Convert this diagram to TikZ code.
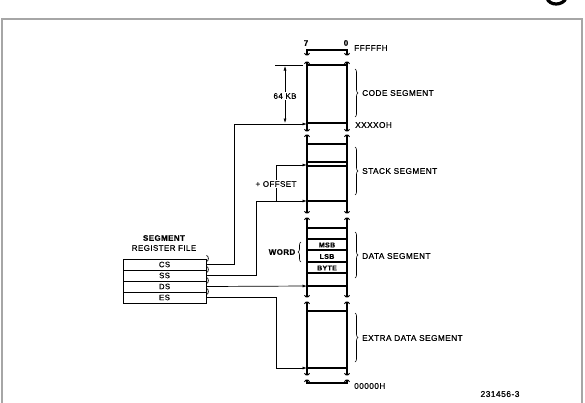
\documentclass[tikz,border=0pt]{standalone}
\usepackage{fontspec}
\setmainfont{Liberation Sans}
\newfontfamily\lblfont{Liberation Sans}[LetterSpace=5,FakeBold=0.6]
\usetikzlibrary{arrows.meta,decorations.pathreplacing}

\tikzset{
    brkend/.pic={\draw[line width=0.9pt] (-2.5,-1.8) .. controls (-2.5,0) and (0,0) .. (0,0)
        .. controls (0,0) and (2.5,0) .. (2.5,-1.8);},
    brkstart/.pic={\draw[line width=0.9pt] (-2.5,1.8) .. controls (-2.5,0) and (0,0) .. (0,0)
        .. controls (0,0) and (2.5,0) .. (2.5,1.8);},
}

\begin{document}
\begin{tikzpicture}[x=1pt,y=-1pt,
    mem/.style={line width=1.1pt},
    conn/.style={line width=0.7pt,-{Latex[length=4.5pt,width=3pt]}},
    seglbl/.style={anchor=west,inner sep=0pt,font=\lblfont\fontsize{8.3}{9}\selectfont},
    reg/.style={draw,line width=0.8pt,minimum width=83pt,minimum height=11pt,inner sep=0pt,
        font=\lblfont\fontsize{7.8}{8}\selectfont},
    cell/.style={inner sep=0pt,font=\lblfont\bfseries\fontsize{7}{8}\selectfont},
    sbrace/.style={decorate,decoration={brace,amplitude=3pt},line width=0.6pt}]
    \useasboundingbox (0,0) rectangle (585,402);
    \clip (0,0) rectangle (585,402);

    % page frame and corner mark
    \draw[gray!70,line width=1.6pt] (2,19) rectangle (582,430);
    \draw[line width=3.2pt] (547,-2) .. controls (549,6) and (563,6) .. (566,-2);

    % memory column
    \draw[mem] (307,55) -- (307,50) -- (347,50) -- (347,55);
    \draw[mem] (307,380) -- (307,383) -- (347,383) -- (347,380);
    \foreach \x in {307,347} {
        \draw[mem] (\x,62) -- (\x,131);
        \draw[mem] (\x,135) -- (\x,213);
        \draw[mem] (\x,218) -- (\x,297);
        \draw[mem] (\x,302) -- (\x,375);
        \foreach \y in {55,131,213,297,375} \pic at (\x,\y) {brkend};
        \foreach \y in {62,135,218,302,380} \pic at (\x,\y) {brkstart};
    }
    \foreach \y in {65,123,144,162,166,201,228,239,250,262,273,286,311,368}
        \draw[mem] (307,\y) -- (347,\y);

    % bit numbers and addresses
    \node[font=\lblfont\bfseries\fontsize{8}{9}\selectfont] (bit7) at (306,43) {7};
    \node[font=\lblfont\bfseries\fontsize{8}{9}\selectfont] (bit0) at (346,43) {0};
    \node[seglbl] (top) at (354,48) {FFFFFH};
    \node[seglbl] (base) at (355,125) {XXXXOH};
    \node[seglbl] (bottom) at (354,386) {00000H};

    % cells of the data segment
    \node[cell] (msb) at (327,245) {MSB};
    \node[cell] (lsb) at (327,256.5) {LSB};
    \node[cell] (byte) at (327,268) {BYTE};
    \draw[sbrace] (301,262) -- (301,242);
    \node[cell,font=\lblfont\bfseries\fontsize{8}{9}\selectfont] (word) at (282,252) {WORD};

    % segment braces
    \draw[sbrace] (355,69) -- (355,117);
    \node[seglbl] (code) at (362,93) {CODE SEGMENT};
    \draw[sbrace] (355,147) -- (355,195);
    \node[seglbl] (stack) at (362,171) {STACK SEGMENT};
    \draw[sbrace] (355,232) -- (355,278);
    \node[seglbl] (data) at (362,256) {DATA SEGMENT};
    \draw[sbrace] (355,313) -- (355,362);
    \node[seglbl] (extra) at (362,338) {EXTRA DATA SEGMENT};

    % segment register file
    \node[font=\lblfont\bfseries\fontsize{8}{9}\selectfont] (title) at (164,238) {SEGMENT};
    \node[font=\lblfont\fontsize{8}{9}\selectfont] (title2) at (164,248) {REGISTER FILE};
    \node[reg] (cs) at (164.5,264.5) {CS};
    \node[reg] (ss) at (164.5,275.5) {SS};
    \node[reg] (ds) at (164.5,286.5) {DS};
    \node[reg] (es) at (164.5,297.5) {ES};
    \foreach \r in {cs,ss,ds,es}
        \draw[line width=0.7pt] (\r.east) ++(0,-3) arc[start angle=90,end angle=-90,x radius=2,y radius=3];

    % targets on the column
    \coordinate (cstgt) at (307,124);
    \coordinate (sstgt) at (307,201);
    \coordinate (ofsbase) at (276,201);
    \coordinate (ofstgt) at (307,165);
    \coordinate (dstgt) at (307,286);
    \coordinate (estgt) at (307,368);

    % base addresses
    \draw[conn] (cs.east) -- ++(28,0) |- (cstgt);
    \draw[conn] (ss.east) -- ++(50,0) |- (sstgt);
    \draw[conn] (ofsbase) |- (ofstgt);
    \draw[conn] (ds.east) -- (dstgt);
    \draw[conn] (es.east) -- ++(70,0) |- (estgt);
    \node[fill=white,inner sep=1pt,font=\lblfont\fontsize{8}{9}\selectfont] (offset) at (276,184) {+ OFFSET};

    % 64 KB span
    \coordinate (spantop) at (285,66);
    \coordinate (spanbot) at (285,123);
    \draw[line width=0.6pt] (275,65) -- (303,65);
    \draw[line width=0.6pt,{Latex[length=4.5pt,width=3pt]}-{Latex[length=4.5pt,width=3pt]}] (spantop) -- (spanbot);
    \node[fill=white,inner sep=1pt,font=\lblfont\fontsize{8}{9}\selectfont] (size) at (285,96) {64 KB};

    \node[font=\lblfont\fontsize{8.5}{9}\selectfont] (fig) at (500,394) {231456-3};
\end{tikzpicture}
\end{document}
